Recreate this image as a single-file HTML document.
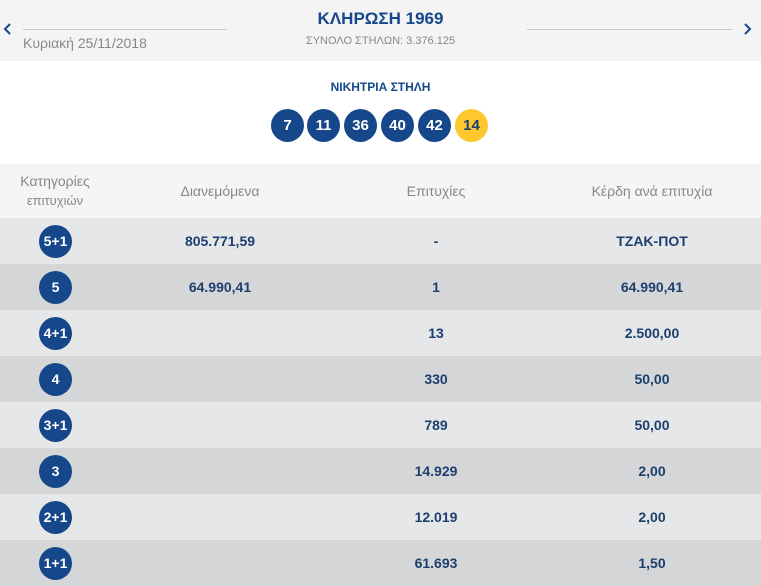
<!DOCTYPE html>
<html><head><meta charset="utf-8"><style>
*{margin:0;padding:0;box-sizing:border-box}
body{width:761px;height:584px;overflow:hidden;background:#fff;font-family:"Liberation Sans","DejaVu Sans",sans-serif;position:relative}
.a{position:absolute}
.hdr{left:0;top:0;width:761px;height:61px;background:#f4f4f4}
.line{height:1px;background:#c5c7d2;top:29px}
.blue{color:#16478a}
.ball{position:absolute;top:109px;width:33px;height:33px;border-radius:50%;background:#16478a;color:#fff;font-weight:bold;font-size:15px;text-align:center;line-height:33px}
.th{top:164px;left:0;width:761px;height:54px;background:#f5f5f5}
.row{left:0;width:761px;height:46px}
.c{position:absolute;text-align:center;font-weight:bold;color:#1c3f6e;font-size:14px;line-height:46px}
.circ{position:absolute;left:39px;top:7px;width:33px;height:33px;border-radius:50%;background:#16478a;color:#fff;font-weight:bold;font-size:14px;text-align:center;line-height:33px}
.hl{position:absolute;color:#888;font-size:14px;text-align:center}
</style></head><body>
<div class="a hdr"></div>
<div class="a line" style="left:23px;width:204px"></div>
<div class="a line" style="left:527px;width:205px"></div>
<svg class="a" style="left:3px;top:23px" width="10" height="12"><polyline points="7,1 2,6 7,11" fill="none" stroke="#16478a" stroke-width="2"/></svg>
<svg class="a" style="left:743px;top:23px" width="10" height="12"><polyline points="2,1 7,6 2,11" fill="none" stroke="#16478a" stroke-width="2"/></svg>
<div class="a" style="left:23px;top:35px;font-size:14px;color:#888">Κυριακή 25/11/2018</div>
<div class="a blue" style="left:0;width:761px;top:9px;text-align:center;font-size:17px;font-weight:bold">ΚΛΗΡΩΣΗ 1969</div>
<div class="a" style="left:0;width:761px;top:35px;text-align:center;font-size:11px;color:#888">ΣΥΝΟΛΟ ΣΤΗΛΩΝ: 3.376.125</div>
<div class="a blue" style="left:0;width:761px;top:80px;text-align:center;font-size:12px;font-weight:bold">ΝΙΚΗΤΡΙΑ ΣΤΗΛΗ</div>
<div class="ball" style="left:271px">7</div>
<div class="ball" style="left:307px">11</div>
<div class="ball" style="left:344px">36</div>
<div class="ball" style="left:381px">40</div>
<div class="ball" style="left:418px">42</div>
<div class="ball" style="left:455px;background:#fdc82f;color:#1c3f6e">14</div>
<div class="a th">
<div class="hl" style="left:0;width:110px;top:8px;line-height:19px">Κατηγορίες<br><span style="font-size:13px">επιτυχιών</span></div>
<div class="hl" style="left:120px;width:200px;top:19px">Διανεμόμενα</div>
<div class="hl" style="left:336px;width:200px;top:19px">Επιτυχίες</div>
<div class="hl" style="left:552px;width:200px;top:19px">Κέρδη ανά επιτυχία</div>
</div>
<div class="a row" style="top:218px;background:#e6e7e9"><div class="circ">5+1</div><div class="c" style="left:120px;width:200px">805.771,59</div><div class="c" style="left:336px;width:200px">-</div><div class="c" style="left:552px;width:200px">ΤΖΑΚ-ΠΟΤ</div></div>
<div class="a row" style="top:264px;background:#d5d6d8"><div class="circ">5</div><div class="c" style="left:120px;width:200px">64.990,41</div><div class="c" style="left:336px;width:200px">1</div><div class="c" style="left:552px;width:200px">64.990,41</div></div>
<div class="a row" style="top:310px;background:#e6e7e9"><div class="circ">4+1</div><div class="c" style="left:336px;width:200px">13</div><div class="c" style="left:552px;width:200px">2.500,00</div></div>
<div class="a row" style="top:356px;background:#d5d6d8"><div class="circ">4</div><div class="c" style="left:336px;width:200px">330</div><div class="c" style="left:552px;width:200px">50,00</div></div>
<div class="a row" style="top:402px;background:#e6e7e9"><div class="circ">3+1</div><div class="c" style="left:336px;width:200px">789</div><div class="c" style="left:552px;width:200px">50,00</div></div>
<div class="a row" style="top:448px;background:#d5d6d8"><div class="circ">3</div><div class="c" style="left:336px;width:200px">14.929</div><div class="c" style="left:552px;width:200px">2,00</div></div>
<div class="a row" style="top:494px;background:#e6e7e9"><div class="circ">2+1</div><div class="c" style="left:336px;width:200px">12.019</div><div class="c" style="left:552px;width:200px">2,00</div></div>
<div class="a row" style="top:540px;background:#d5d6d8"><div class="circ">1+1</div><div class="c" style="left:336px;width:200px">61.693</div><div class="c" style="left:552px;width:200px">1,50</div></div>
</body></html>
